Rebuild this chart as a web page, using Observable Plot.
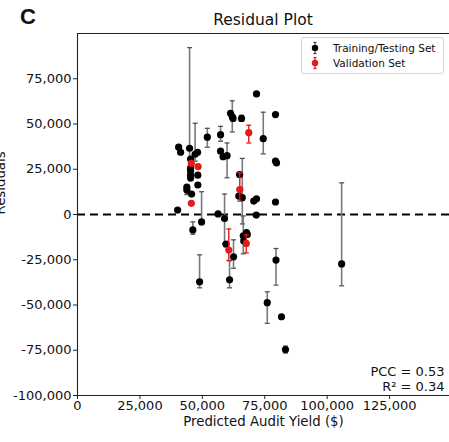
<!DOCTYPE html>
<html><head><meta charset="utf-8">
<script src="https://cdn.jsdelivr.net/npm/d3@7"></script>
<script src="https://cdn.jsdelivr.net/npm/@observablehq/plot@0.6"></script>
<style>
body{margin:0;background:#fff;}
#wrap{position:relative;width:449px;height:442px;overflow:hidden;background:#fff;font-family:"DejaVu Sans",sans-serif;color:#111;}
#wrap svg{display:block;}
.panel{position:absolute;left:20px;top:2px;font-family:"Liberation Sans",Arial,sans-serif;font-weight:bold;font-size:22px;line-height:30px;}
.title{position:absolute;left:77px;width:372px;top:11px;text-align:center;font-size:15.5px;line-height:18px;}
.legend{position:absolute;left:301px;top:37px;width:141px;height:35px;border:1px solid #d4d4d4;border-radius:3px;background:rgba(255,255,255,0.85);font-size:10.5px;}
.legend .row{position:absolute;left:0;height:14px;line-height:14px;}
.legend svg{position:absolute;left:6px;top:0;}
.legend span{position:absolute;left:31px;white-space:nowrap;}
</style></head><body>
<div id="wrap"></div>
<script>
// Training/Testing set: predicted yield (x), residual (y), error bar bounds (null = no visible bar)
const trainX = [40500,41300,44900,47100,48100,52000,45300,45300,45300,45300,
  45300,48200,43800,43800,48200,45700,40100,49700,46200,48900,
  56300,58900,57300,57300,58300,59900,61300,62000,62300,65700,
  71700,74400,79300,79300,79700,64900,64600,66000,70600,71700,
  79300,71600,66400,67700,68000,66600,59500,62500,60900,79500,
  76000,81700,83300,105800];
const trainY = [37200,34400,36600,33300,34400,42700,30600,25600,24000,21700,
  20100,21700,15100,13500,16300,11300,2500,-4100,-8500,-37200,
  300,-2200,44100,35000,31900,32500,55900,54000,53100,53100,
  66600,41900,55200,29500,28500,22100,10200,9300,7400,8700,
  6900,-300,-11800,-10000,-11000,-14600,-16400,-23400,-36100,-25200,
  -48700,-56500,-74600,-27300];
const trainLow = [null,null,30500,29500,null,37200,null,null,null,null,
  null,null,null,11000,null,null,null,-5500,-10900,-40500,
  null,-16000,40500,null,null,20300,null,45600,null,51500,
  null,33500,null,null,null,null,null,-5200,null,null,
  null,null,-21700,null,null,null,null,-29700,-40500,-39000,
  -60100,null,-76500,-39400];
const trainHigh = [null,null,92200,50400,null,47600,null,null,null,null,
  null,null,null,16000,null,null,null,12600,-4100,-22300,
  null,11300,48700,null,null,39500,null,62800,null,54800,
  null,56500,null,null,null,null,null,31000,null,null,
  null,null,-800,null,null,null,null,-14000,-25600,-18800,
  -42700,null,-72700,17500];

// Validation set
const valX = [45600,48300,45600,68600,65000,60600,67600];
const valY = [28200,26500,6200,45200,13800,-19600,-16000];
const valLow = [null,null,null,39500,7400,-25300,-21200];
const valHigh = [null,null,null,49300,23000,-8000,-11300];

const xTicks = [0,25000,50000,75000,100000,125000];
const yTicks = [-100000,-75000,-50000,-25000,0,25000,50000,75000];
const statsText = ["PCC = 0.53", "R² = 0.34"];
const seriesNames = ["Training/Testing Set", "Validation Set"];

const train = trainX.map((x,i)=>({x, y:trainY[i], lo:trainLow[i], hi:trainHigh[i]}));
const val = valX.map((x,i)=>({x, y:valY[i], lo:valLow[i], hi:valHigh[i]}));
const trainBars = train.filter(d=>d.lo!=null);
const valBars = val.filter(d=>d.lo!=null);

const fmt = d => (d<0?"-":"") + d3.format(",")(Math.abs(d));
const cap = {draw(ctx){ ctx.moveTo(-2.5,0); ctx.lineTo(2.5,0); }};
const barGray = "#7a7a7a", red = "#e41a1c";

const chart = Plot.plot({
  width: 449, height: 442,
  marginLeft: 77, marginRight: 0, marginTop: 33, marginBottom: 47,
  style: {fontFamily: "DejaVu Sans", fontSize: "13px", color: "#111", background: "white"},
  x: {domain: [0, 149000]},
  y: {domain: [-100000, 100000]},
  marks: [
    Plot.axisX({ticks: xTicks, tickFormat: fmt, tickSize: 4, tickPadding: 1.5, label: null, stroke: "#222"}),
    Plot.axisY({ticks: yTicks, tickFormat: fmt, tickSize: 4, tickPadding: 2, label: null, stroke: "#222"}),
    Plot.ruleX([0], {stroke: "#222", strokeWidth: 1.1}),
    Plot.ruleY([-100000, 100000], {stroke: "#222", strokeWidth: 1.1}),
    Plot.ruleY([0], {stroke: "black", strokeWidth: 2, strokeDasharray: "8,5"}),
    Plot.ruleX(trainBars, {x: "x", y1: "lo", y2: "hi", stroke: barGray, strokeWidth: 1.6}),
    Plot.dot(trainBars, {x: "x", y: "lo", symbol: cap, fill: "none", stroke: "#555", strokeWidth: 1.3}),
    Plot.dot(trainBars, {x: "x", y: "hi", symbol: cap, fill: "none", stroke: "#555", strokeWidth: 1.3}),
    Plot.dot(train, {x: "x", y: "y", r: 3.6, fill: "black"}),
    Plot.ruleX(valBars, {x: "x", y1: "lo", y2: "hi", stroke: red, strokeWidth: 1.4}),
    Plot.dot(valBars, {x: "x", y: "lo", symbol: cap, fill: "none", stroke: red, strokeWidth: 1.3}),
    Plot.dot(valBars, {x: "x", y: "hi", symbol: cap, fill: "none", stroke: red, strokeWidth: 1.3}),
    Plot.dot(val, {x: "x", y: "y", r: 3.6, fill: red}),
    Plot.text([statsText.join("\n")], {frameAnchor: "bottom-right", textAnchor: "end", lineAnchor: "bottom", dx: -5, dy: -5, fontSize: 13, lineHeight: 1.08, fill: "#111"}),
    Plot.text(["Predicted Audit Yield ($)"], {frameAnchor: "bottom", dy: 30, fontSize: 13.3, fill: "#111"}),
    Plot.text(["Residuals"], {frameAnchor: "left", rotate: -90, lineAnchor: "bottom", dx: -73, fontSize: 13.3, fill: "#111"})
  ]
});

const wrap = document.getElementById("wrap");
wrap.appendChild(chart);

const panel = document.createElement("div"); panel.className = "panel"; panel.textContent = "C"; wrap.appendChild(panel);
const title = document.createElement("div"); title.className = "title"; title.textContent = "Residual Plot"; wrap.appendChild(title);

const legend = document.createElement("div"); legend.className = "legend";
const colors = ["black", red];
const capCols = ["#333", red];
seriesNames.forEach((name, i) => {
  const row = document.createElement("div"); row.className = "row";
  row.style.top = (3 + i*15) + "px"; row.style.width = "141px";
  row.innerHTML = `<svg width="14" height="14" viewBox="0 0 14 14">
    <line x1="7" y1="1.5" x2="7" y2="12.5" stroke="${i?red:barGray}" stroke-width="1.3"/>
    <line x1="5.5" y1="1.5" x2="8.5" y2="1.5" stroke="${capCols[i]}" stroke-width="1.2"/>
    <line x1="5.5" y1="12.5" x2="8.5" y2="12.5" stroke="${capCols[i]}" stroke-width="1.2"/>
    <circle cx="7" cy="7" r="3.2" fill="${colors[i]}"/></svg><span>${name}</span>`;
  legend.appendChild(row);
});
wrap.appendChild(legend);
</script>
</body></html>
